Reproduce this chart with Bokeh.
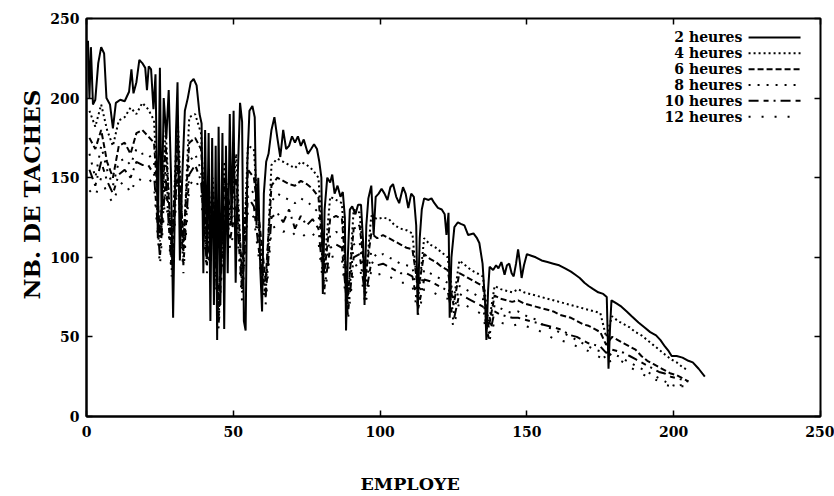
from bokeh.plotting import figure
from bokeh.models import Range1d, LinearAxis, Label, Arrow, FixedTicker, Title
from bokeh.embed import file_html
from bokeh.resources import INLINE

# ---------------- data ----------------
series_names = ["2 heures", "4 heures", "6 heures", "8 heures", "10 heures", "12 heures"]
tick_values = [0, 50, 100, 150, 200, 250]
x_title = "EMPLOYE"
y_title = "NB. DE TACHES"

x_2h = [0.5, 1, 1.5, 2.2, 3, 4, 5, 6, 6.8, 8,
        9, 10, 11.5, 13, 14.5, 15.3, 16, 17, 18, 19,
        20, 20.6, 21.2, 22, 22.8, 23.5, 24.3, 25, 25.6, 26.3,
        27.2, 28, 28.8, 29.5, 30.5, 31, 31.8, 32.6, 33.5, 34.5,
        35.5, 36.5, 37.5, 38.5, 39.2, 39.8, 40.4, 41, 41.6, 42.2,
        42.8, 43.4, 44, 44.5, 45, 45.6, 46.3, 46.9, 47.5, 48.1,
        48.8, 49.4, 50.1, 50.8, 51.5, 52.3, 53, 53.6, 54.2, 54.8,
        55.5, 56.5, 57.3, 57.9, 58.5, 59.2, 59.8, 60.4, 61.2, 62,
        63, 64, 65, 66, 67, 68, 69, 70, 71, 72,
        73, 74, 75.4, 76.5, 77.5, 78.5, 79.3, 80, 80.5, 81.1,
        82, 83, 83.7, 84.5, 85.5, 86.5, 87.3, 88, 88.4, 89,
        89.7, 90.5, 91.6, 92.5, 93.5, 94.2, 94.7, 95.3, 96, 97,
        97.8, 98.5, 99.5, 100.5, 101.5, 102.5, 103.5, 104.4, 105.5, 106.5,
        107.8, 108.7, 109.6, 110.6, 111.5, 112.3, 112.8, 113.5, 114.2, 115,
        116.5, 117.5, 118.5, 119.7, 121, 122, 122.6, 123.3, 123.7, 124.3,
        125.3, 126.5, 127.5, 128.7, 130, 131.8, 133, 133.8, 134.9, 135.8,
        136.2, 136.8, 137.3, 138.5, 139.5, 140.3, 141.3, 142.4, 143.2, 144,
        144.8, 145.5, 146.3, 147, 147.6, 148.2, 149, 150, 151.5, 153,
        155, 157, 159, 161, 163, 165, 166.5, 168, 169.6, 171,
        172.6, 174.3, 176, 177.2, 177.8, 178.3, 178.8, 180.5, 182.2, 184,
        185.7, 188, 190, 192, 194, 195.5, 197, 198.3, 199.3, 201,
        203, 205, 206.5, 208.5, 210.6]
y_2h = [236, 200, 232, 196, 199, 222, 232, 228, 200, 196,
        181, 197, 199, 198, 204, 218, 203, 210, 224, 222,
        219, 205, 220, 218, 193, 215, 112, 219, 120, 200,
        175, 205, 150, 62, 180, 210, 98, 150, 192, 200,
        210, 212, 208, 190, 184, 90, 180, 100, 178, 60,
        175, 70, 170, 48, 182, 70, 178, 55, 170, 90,
        190, 120, 192, 84, 150, 197, 185, 60, 54, 160,
        192, 195, 188, 120, 150, 92, 66, 140, 160, 165,
        180, 188, 175, 163, 180, 168, 170, 176, 172, 176,
        170, 174, 165, 168, 171, 168, 160, 150, 77, 130,
        150, 147, 152, 140, 145, 138, 141, 125, 54, 100,
        130, 132, 127, 133, 133, 110, 70, 120, 137, 145,
        114, 138, 140, 143, 140, 136, 144, 146, 138, 134,
        144, 140, 131, 140, 138, 120, 64, 112, 130, 137,
        136, 137, 134, 131, 130, 127, 114, 128, 62, 100,
        119, 122, 121, 120, 114, 115, 112, 109, 96, 70,
        48, 80, 94, 92, 95, 93, 97, 89, 95, 96,
        90, 88, 96, 105, 97, 87, 95, 102, 101, 100,
        98, 97, 96, 95, 93, 91, 89, 87, 84, 82,
        80, 78, 77, 75, 30, 55, 73, 71, 69, 66,
        63, 59, 56, 53, 51, 48, 44, 41, 38, 38,
        37, 35, 34, 30, 25]

# employees sampled every other index for the lower curves
x_low = list(range(1, 206, 2))
y_4h = [192, 182, 196, 180, 170, 186, 188, 194, 190, 197,
        193, 186, 110, 180, 100, 190, 104, 188, 190, 178,
        95, 150, 60, 160, 120, 165, 80, 170, 168, 110,
        75, 158, 162, 160, 158, 156, 160, 158, 155, 150,
        95, 138, 136, 134, 70, 130, 128, 85, 126, 124,
        125, 124, 120, 118, 117, 115, 75, 112, 108, 106,
        103, 100, 72, 98, 95, 92, 90, 88, 58, 82,
        80, 79, 78, 80, 78, 77, 76, 75, 74, 73,
        72, 71, 70, 69, 68, 67, 66, 65, 50, 63,
        60, 58, 56, 53, 51, 48, 45, 42, 39, 36,
        34, 31, 29]
y_6h = [175, 168, 180, 160, 150, 170, 172, 165, 178, 180,
        176, 172, 115, 170, 105, 175, 110, 172, 175, 168,
        110, 140, 70, 150, 130, 150, 90, 155, 150, 120,
        85, 145, 150, 148, 146, 145, 148, 146, 143, 138,
        90, 124, 126, 124, 75, 118, 120, 88, 115, 112,
        114, 112, 110, 108, 106, 105, 80, 102, 99, 97,
        94, 92, 70, 90, 88, 86, 84, 82, 56, 76,
        74, 73, 72, 73, 71, 70, 69, 68, 67, 66,
        64, 63, 62, 60, 58, 57, 55, 53, 45, 50,
        48, 46, 44, 42, 38, 35, 33, 31, 29, 27,
        26, 24, 22]
y_8h = [165, 150, 170, 155, 145, 160, 162, 158, 168, 165,
        165, 160, 105, 158, 98, 165, 100, 160, 165, 155,
        100, 130, 62, 140, 120, 140, 82, 145, 140, 110,
        80, 135, 140, 138, 136, 134, 137, 135, 132, 128,
        85, 114, 116, 114, 68, 108, 110, 80, 104, 100,
        102, 100, 98, 96, 95, 94, 72, 92, 90, 88,
        86, 84, 64, 82, 80, 78, 76, 74, 52, 70,
        68, 66, 65, 66, 64, 62, 61, 58, 56, 55,
        53, 52, 50, 48, 46, 44, 42, 41, 36, 40,
        38, 36, 34, 32, 30, 28, 26, 24, 22, 20,
        19, 19, 19]
y_10h = [155, 145, 160, 148, 140, 152, 155, 150, 160, 158,
         158, 152, 100, 150, 92, 158, 95, 152, 158, 148,
         95, 125, 58, 132, 112, 132, 78, 138, 132, 100,
         75, 125, 128, 122, 130, 118, 126, 120, 124, 118,
         80, 106, 108, 106, 64, 100, 102, 75, 97, 95,
         96, 94, 92, 90, 90, 88, 68, 86, 85, 83,
         81, 79, 60, 77, 75, 73, 71, 69, 49, 66,
         64, 63, 62, 62, 61, 60, 59, 58, 57, 56,
         55, 53, 51, 50, 48, 46, 45, 44, 40, 42,
         41, 40, 38, 36, 34, 32, 30, 28, 27, 25,
         24, 23, 22]
y_12h = [142, 138, 150, 140, 134, 145, 148, 140, 150, 148,
         150, 145, 95, 142, 88, 150, 90, 145, 150, 140,
         90, 118, 55, 125, 105, 125, 72, 130, 125, 95,
         70, 118, 120, 116, 118, 114, 116, 112, 115, 110,
         76, 100, 101, 99, 60, 94, 96, 70, 92, 89,
         90, 88, 86, 84, 84, 82, 64, 80, 79, 77,
         75, 74, 56, 72, 70, 68, 66, 64, 46, 60,
         59, 58, 57, 58, 57, 56, 55, 53, 51, 49,
         48, 47, 46, 44, 43, 41, 39, 37, 34, 35,
         36, 34, 31, 29, 27, 25, 24, 22, 20, 19,
         19, 20, 21]

# ---------------- styling ----------------
FONT = "DejaVu Serif"
dashes = ["solid", "2 3", "6 3", "2 7", "10 5 5 5 2 5", "2 11"]

p = figure(width=834, height=496, output_backend="svg", toolbar_location=None,
           x_range=Range1d(0, 250), y_range=Range1d(0, 250),
           min_border_left=86, min_border_right=14, min_border_top=18, min_border_bottom=80)
p.background_fill_color = "white"
p.border_fill_color = "white"
p.outline_line_color = "black"
p.outline_line_width = 2
p.grid.visible = False

for ax in (p.xaxis[0], p.yaxis[0]):
    ax.ticker = FixedTicker(ticks=tick_values)
    ax.major_tick_in = 6
    ax.major_tick_out = 0
    ax.minor_tick_line_color = None
    ax.major_tick_line_color = "black"
    ax.major_tick_line_width = 1.5
    ax.axis_line_color = "black"
    ax.axis_line_width = 2
    ax.major_label_text_font = FONT
    ax.major_label_text_font_style = "bold"
    ax.major_label_text_font_size = "14px"
    ax.major_label_text_color = "black"
p.xaxis.major_label_standoff = 9
p.yaxis.major_label_standoff = 7
# invisible spacer label: pushes the x title (below) down to its place
p.xaxis.axis_label = " "
p.xaxis.axis_label_text_font_size = "1px"
p.xaxis.axis_label_standoff = 28

for loc in ("above", "right"):
    extra = LinearAxis(ticker=FixedTicker(ticks=tick_values),
                       major_tick_in=6, major_tick_out=0,
                       major_tick_line_width=1.5,
                       minor_tick_line_color=None, axis_line_color=None,
                       major_label_text_font_size="0px", major_label_text_color=None,
                       major_label_standoff=0)
    p.add_layout(extra, loc)

# axis titles placed like gnuplot (centred on the canvas rather than the frame)
p.add_layout(Title(text=x_title, align="left", offset=274, standoff=0,
                   text_font=FONT, text_font_style="bold", text_font_size="17.5px",
                   text_color="black"), "below")
p.add_layout(Title(text=y_title, align="left", offset=117, standoff=6,
                   text_font=FONT, text_font_style="bold", text_font_size="23px",
                   text_color="black"), "left")

lower = [y_4h, y_6h, y_8h, y_10h, y_12h]
p.line(x_2h, y_2h, line_color="black", line_width=2)
for ys, dash in zip(lower, dashes[1:]):
    p.line(x_low, ys, line_color="black", line_width=2, line_dash=dash)

# legend, gnuplot style (text right-aligned, sample to the right)
legend_text_x = 223.4
legend_line_x0, legend_line_x1 = 225.5, 243.2
legend_top, legend_step = 238.1, 9.95
for i, (name, dash) in enumerate(zip(series_names, dashes)):
    yy = legend_top - i * legend_step
    p.add_layout(Label(x=legend_text_x, y=yy, text=name, text_align="right",
                       text_baseline="middle", text_font=FONT, text_font_style="bold",
                       text_font_size="14px", text_color="black"))
    p.add_layout(Arrow(end=None, x_start=legend_line_x0, y_start=yy,
                       x_end=legend_line_x1, y_end=yy, line_color="black",
                       line_width=2, line_dash=dash))

open("out.html", "w").write(file_html(p, INLINE))
